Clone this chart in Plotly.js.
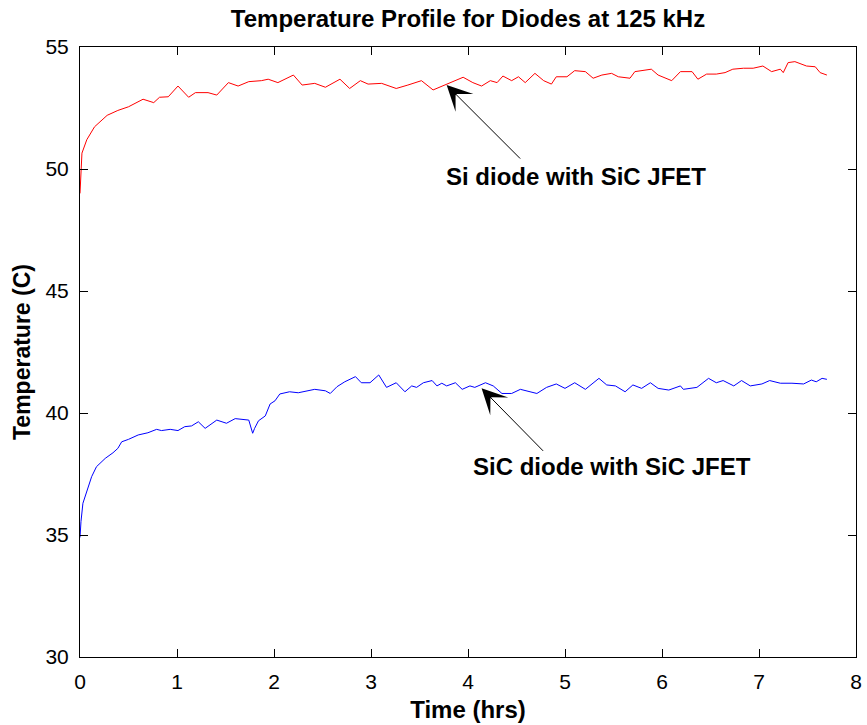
<!DOCTYPE html>
<html>
<head>
<meta charset="utf-8">
<script src="https://cdn.plot.ly/plotly-3.0.1.min.js"></script>
<style>html,body{margin:0;padding:0;background:#fff;}#chart{width:867px;height:725px;}</style>
</head>
<body>
<div id="chart"></div>
<script>
// Si diode with SiC JFET (red)
var siTime = [0, 0.01, 0.02, 0.07, 0.15, 0.28, 0.39, 0.5, 0.65, 0.76, 0.82, 0.91, 1.01, 1.12, 1.19, 1.32, 1.41, 1.53, 1.63, 1.74, 1.87, 1.94, 2.04, 2.2, 2.29, 2.42, 2.53, 2.68, 2.78, 2.89, 2.97, 3.11, 3.26, 3.38, 3.52, 3.64, 3.76, 3.87, 3.95, 4.05, 4.14, 4.23, 4.3, 4.36, 4.45, 4.52, 4.59, 4.69, 4.78, 4.86, 4.91, 5.02, 5.1, 5.21, 5.29, 5.38, 5.48, 5.55, 5.67, 5.72, 5.81, 5.89, 5.96, 6.1, 6.19, 6.31, 6.37, 6.46, 6.56, 6.65, 6.73, 6.84, 6.94, 7.04, 7.13, 7.22, 7.25, 7.3, 7.37, 7.49, 7.58, 7.63, 7.7];
var siTemp = [49.0, 50.1, 50.65, 51.2, 51.73, 52.2, 52.4, 52.55, 52.86, 52.72, 52.94, 52.96, 53.4, 52.94, 53.13, 53.13, 53.03, 53.54, 53.4, 53.58, 53.62, 53.68, 53.54, 53.85, 53.44, 53.51, 53.35, 53.68, 53.3, 53.62, 53.48, 53.51, 53.3, 53.44, 53.62, 53.24, 53.44, 53.62, 53.76, 53.54, 53.4, 53.62, 53.54, 53.81, 53.62, 53.78, 53.54, 53.92, 53.62, 53.48, 53.78, 53.78, 54.03, 53.99, 53.72, 53.85, 53.92, 53.78, 53.72, 53.99, 54.03, 54.09, 53.85, 53.62, 53.99, 53.99, 53.68, 53.89, 53.89, 53.95, 54.09, 54.13, 54.13, 54.22, 53.99, 54.09, 53.95, 54.36, 54.4, 54.22, 54.19, 53.95, 53.85];

// SiC diode with SiC JFET (blue)
var sicTime = [0, 0.01, 0.03, 0.07, 0.12, 0.17, 0.26, 0.34, 0.39, 0.43, 0.5, 0.6, 0.7, 0.79, 0.84, 0.93, 1.01, 1.08, 1.15, 1.22, 1.29, 1.41, 1.51, 1.6, 1.68, 1.74, 1.78, 1.8, 1.84, 1.91, 1.96, 2.01, 2.06, 2.16, 2.25, 2.35, 2.42, 2.53, 2.58, 2.65, 2.73, 2.84, 2.9, 2.99, 3.08, 3.16, 3.26, 3.35, 3.42, 3.47, 3.54, 3.63, 3.68, 3.73, 3.78, 3.87, 3.94, 4.02, 4.07, 4.18, 4.26, 4.35, 4.45, 4.54, 4.61, 4.71, 4.81, 4.91, 5.0, 5.1, 5.21, 5.35, 5.43, 5.52, 5.62, 5.7, 5.79, 5.88, 5.96, 6.07, 6.19, 6.22, 6.36, 6.48, 6.56, 6.63, 6.74, 6.82, 6.91, 7.03, 7.11, 7.22, 7.34, 7.46, 7.54, 7.59, 7.65, 7.7];
var sicTemp = [34.9, 35.55, 36.3, 36.78, 37.39, 37.8, 38.14, 38.37, 38.55, 38.82, 38.92, 39.1, 39.19, 39.33, 39.28, 39.33, 39.28, 39.44, 39.47, 39.64, 39.37, 39.71, 39.58, 39.77, 39.74, 39.71, 39.17, 39.37, 39.68, 39.88, 40.37, 40.5, 40.78, 40.87, 40.83, 40.91, 40.97, 40.91, 40.8, 41.08, 41.28, 41.49, 41.24, 41.24, 41.56, 41.05, 41.24, 40.87, 41.11, 41.05, 41.24, 41.33, 41.11, 41.22, 41.11, 41.24, 40.97, 41.11, 41.05, 41.24, 41.11, 40.8, 40.8, 40.97, 40.91, 40.8, 41.05, 41.19, 41.01, 41.24, 40.97, 41.42, 41.15, 41.11, 40.87, 41.15, 41.01, 41.24, 41.01, 40.94, 41.11, 40.97, 41.05, 41.42, 41.24, 41.33, 41.11, 41.33, 41.11, 41.19, 41.33, 41.22, 41.22, 41.19, 41.35, 41.28, 41.42, 41.38];

var xTicks = [0, 1, 2, 3, 4, 5, 6, 7, 8];
var yTicks = [30, 35, 40, 45, 50, 55];

var labelSi = 'Si diode with SiC JFET';
var labelSiC = 'SiC diode with SiC JFET';
var arrowSi = {x: 3.78, y: 53.44};
var arrowSiC = {x: 4.14, y: 41.01};
var textSi = {x: 5.11, y: 49.71};
var textSiC = {x: 5.48, y: 37.79};

var FONT = 'Liberation Sans, Arial, Helvetica, sans-serif';

var traces = [
  {x: siTime, y: siTemp, type: 'scatter', mode: 'lines', line: {color: '#ff0000', width: 1}, hoverinfo: 'skip'},
  {x: sicTime, y: sicTemp, type: 'scatter', mode: 'lines', line: {color: '#0000ff', width: 1}, hoverinfo: 'skip'}
];

var axisCommon = {
  showgrid: false, zeroline: false, showline: true, linecolor: '#000', linewidth: 1,
  mirror: 'ticks', ticks: 'inside', ticklen: 8, tickwidth: 1, tickcolor: '#000',
  tickfont: {family: FONT, size: 21, color: '#000'}
};

var layout = {
  width: 867, height: 725,
  margin: {l: 80, r: 11, t: 47, b: 68},
  paper_bgcolor: '#fff', plot_bgcolor: '#fff',
  showlegend: false,
  title: {text: '<b>Temperature Profile for Diodes at 125 kHz</b>', font: {family: FONT, size: 24, color: '#000'},
          x: 0.5, xref: 'paper', xanchor: 'center', y: 1 - 19/725, yref: 'container', yanchor: 'middle'},
  xaxis: Object.assign({}, axisCommon, {
    range: [0, 8], tickvals: xTicks, ticktext: xTicks.map(String),
    ticklabelstandoff: 6,
    title: {text: '<b>Time (hrs)</b>', font: {family: FONT, size: 24, color: '#000'}, standoff: 8}
  }),
  yaxis: Object.assign({}, axisCommon, {
    range: [30, 55], tickvals: yTicks, ticktext: yTicks.map(String),
    ticklabelstandoff: 6,
    title: {text: '<b>Temperature (C)</b>', font: {family: FONT, size: 23, color: '#000'}, standoff: 8}
  }),
  annotations: [
    {x: arrowSi.x, y: arrowSi.y, xref: 'x', yref: 'y', text: '', showarrow: true,
     ax: 75, ay: 75, arrowhead: 3, arrowsize: 4.2, arrowwidth: 1, arrowcolor: '#000'},
    {x: arrowSiC.x, y: arrowSiC.y, xref: 'x', yref: 'y', text: '', showarrow: true,
     ax: 63, ay: 64, arrowhead: 3, arrowsize: 4.2, arrowwidth: 1, arrowcolor: '#000'},
    {x: textSi.x, y: textSi.y, xref: 'x', yref: 'y', text: '<b>' + labelSi + '</b>', showarrow: false,
     font: {family: FONT, size: 24, color: '#000'}, xanchor: 'center', yanchor: 'middle'},
    {x: textSiC.x, y: textSiC.y, xref: 'x', yref: 'y', text: '<b>' + labelSiC + '</b>', showarrow: false,
     font: {family: FONT, size: 24, color: '#000'}, xanchor: 'center', yanchor: 'middle'}
  ]
};

Plotly.newPlot('chart', traces, layout, {staticPlot: true, displayModeBar: false});
</script>
</body>
</html>
